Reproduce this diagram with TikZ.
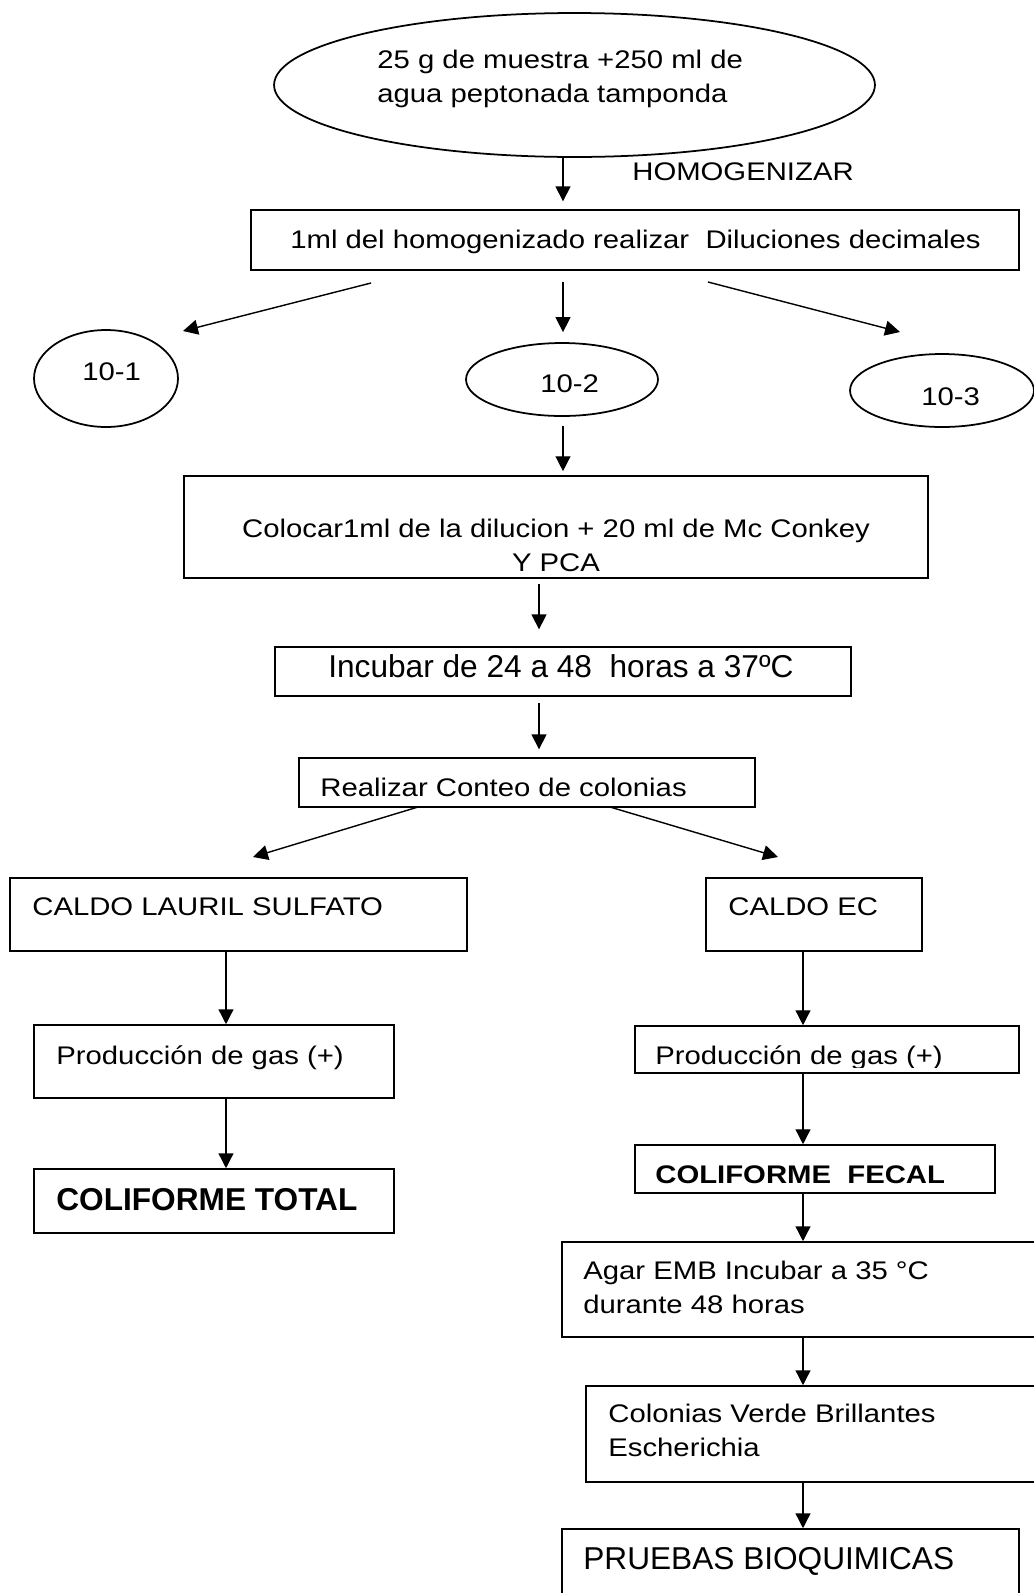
\documentclass[tikz,border=0pt]{standalone}
\usepackage{fontspec}
\setmainfont{Liberation Sans}
\newfontfamily\stretchfont{Liberation Sans}[FakeStretch=1.15]
\usetikzlibrary{shapes.geometric, arrows.meta}

\newcommand{\bodysize}{\stretchfont\fontsize{14.5}{19}\selectfont}
\newcommand{\bigsize}{\fontsize{18}{21}\selectfont}

\tikzset{
  box/.style={draw, rectangle, line width=0.9pt, inner sep=0pt},
  oval/.style={draw, ellipse, line width=1pt, inner sep=0pt},
  lbl/.style={inner sep=0pt, anchor=base west, font=\bodysize},
  biglbl/.style={inner sep=0pt, anchor=base west, font=\bigsize},
  arr/.style={-{Triangle[length=8.5pt,width=8.5pt]}, line width=0.8pt}
}

\begin{document}
\begin{tikzpicture}[x=0.02cm, y=-0.02cm]
    \useasboundingbox (0,0) rectangle (1034,1593);

    % Columns of the straight arrows
    \coordinate (colM) at (563,0);
    \coordinate (colC) at (539,0);
    \coordinate (colL) at (226,0);
    \coordinate (colR) at (803,0);

    % Sample
    \node[oval, minimum width=12.02cm, minimum height=2.88cm] (muestra) at (574.5,85) {};
    \node[lbl, align=left] (muestraTxt) at (377,102) {25 g de muestra +250 ml de\\agua peptonada tamponda};
    \node[lbl] (homog) at (632,180) {HOMOGENIZAR};

    % Dilutions
    \node[box, minimum width=15.36cm, minimum height=1.2cm] (dil) at (635,240) {};
    \node[lbl] (dilTxt) at (290,248) {1ml del homogenizado realizar\ \ Diluciones decimales};
    \node[oval, minimum width=2.88cm, minimum height=1.94cm] (d1) at (106,378.5) {};
    \node[oval, minimum width=3.84cm, minimum height=1.46cm] (d2) at (562,379.5) {};
    \node[oval, minimum width=3.68cm, minimum height=1.46cm] (d3) at (942,390.5) {};
    \node[lbl] (d1Txt) at (82,380) {10-1};
    \node[lbl] (d2Txt) at (540,392) {10-2};
    \node[lbl] (d3Txt) at (921,405) {10-3};

    % Plating and counting
    \node[box, minimum width=14.88cm, minimum height=2.04cm] (colocar) at (556,527) {};
    \node[lbl, anchor=base, align=center] (colocarTxt) at (556,571) {Colocar1ml de la dilucion + 20 ml de Mc Conkey\\Y PCA};
    \node[box, minimum width=11.52cm, minimum height=0.98cm] (incubar) at (563,671.5) {};
    \node[biglbl] (incubarTxt) at (328,677) {Incubar de 24 a 48\ \ horas a 37ºC};
    \node[box, minimum width=9.12cm, minimum height=0.98cm] (conteo) at (527,782.5) {};
    \node[lbl] (conteoTxt) at (320,796) {Realizar Conteo de colonias};

    % Total coliforms
    \node[box, minimum width=9.14cm, minimum height=1.46cm] (lauril) at (238.5,914.5) {};
    \node[lbl] (laurilTxt) at (32,915) {CALDO LAURIL SULFATO};
    \node[box, minimum width=7.2cm, minimum height=1.46cm] (gasL) at (214,1061.5) {};
    \node[lbl] (gasLTxt) at (56,1064) {Producción de gas (+)};
    \node[box, minimum width=7.2cm, minimum height=1.28cm] (total) at (214,1201) {};
    \node[biglbl, font=\bigsize\bfseries] (totalTxt) at (56,1210) {COLIFORME TOTAL};

    % Fecal coliforms
    \node[box, minimum width=4.32cm, minimum height=1.46cm] (caldoEC) at (814,914.5) {};
    \node[lbl] (caldoECTxt) at (728,915) {CALDO EC};
    \node[box, minimum width=7.68cm, minimum height=0.94cm] (gasR) at (827,1049.5) {};
    \begin{scope}
        \clip (635,1026) rectangle (1019,1067);
        \node[lbl] (gasRTxt) at (655,1064) {Producción de gas (+)};
    \end{scope}
    \node[box, minimum width=7.2cm, minimum height=0.96cm] (fecal) at (815,1169) {};
    \node[lbl, font=\bodysize\bfseries] (fecalTxt) at (655,1183) {COLIFORME\ \ FECAL};
    \node[box, minimum width=9.56cm, minimum height=1.9cm] (agar) at (801,1289.5) {};
    \node[lbl, align=left] (agarTxt) at (583,1313) {Agar EMB Incubar a 35 °C\\durante 48 horas};
    \node[box, minimum width=9.08cm, minimum height=1.92cm] (verde) at (813,1434) {};
    \node[lbl, align=left] (verdeTxt) at (608,1456) {Colonias Verde Brillantes\\Escherichia};
    \node[box, minimum width=9.14cm, minimum height=1.42cm] (bioq) at (790.5,1564.5) {};
    \node[biglbl] (bioqTxt) at (583,1569) {PRUEBAS BIOQUIMICAS};

    % Free ends of the slanted arrows
    \coordinate (d1a) at (371,283);
    \coordinate (d1b) at (183,331);
    \coordinate (d3a) at (708,282);
    \coordinate (d3b) at (900,332);
    \coordinate (lauA) at (418,807);
    \coordinate (lauB) at (253,857);
    \coordinate (ecA) at (610,807);
    \coordinate (ecB) at (778,857);

    % Arrows
    \draw[arr, shorten >=4.5pt] (muestra.south -| colM) -- (dil.north -| colM);
    \draw[arr] (d1a) -- (d1b);
    \draw[arr, shorten <=6.2pt, shorten >=5.7pt] (dil.south -| colM) -- (d2.north -| colM);
    \draw[arr] (d3a) -- (d3b);
    \draw[arr, shorten <=5.1pt, shorten >=2.3pt] (d2.south -| colM) -- (colocar.north -| colM);
    \draw[arr, shorten <=2.8pt, shorten >=9.6pt] (colocar.south -| colC) -- (incubar.north -| colC);
    \draw[arr, shorten <=3.4pt, shorten >=4.5pt] (incubar.south -| colC) -- (conteo.north -| colC);
    \draw[arr] (lauA) -- (lauB);
    \draw[arr] (ecA) -- (ecB);
    \draw[arr] (lauril.south -| colL) -- (gasL.north -| colL);
    \draw[arr] (gasL.south -| colL) -- (total.north -| colL);
    \draw[arr] (caldoEC.south -| colR) -- (gasR.north -| colR);
    \draw[arr] (gasR.south -| colR) -- (fecal.north -| colR);
    \draw[arr] (fecal.south -| colR) -- (agar.north -| colR);
    \draw[arr] (agar.south -| colR) -- (verde.north -| colR);
    \draw[arr] (verde.south -| colR) -- (bioq.north -| colR);
\end{tikzpicture}
\end{document}
